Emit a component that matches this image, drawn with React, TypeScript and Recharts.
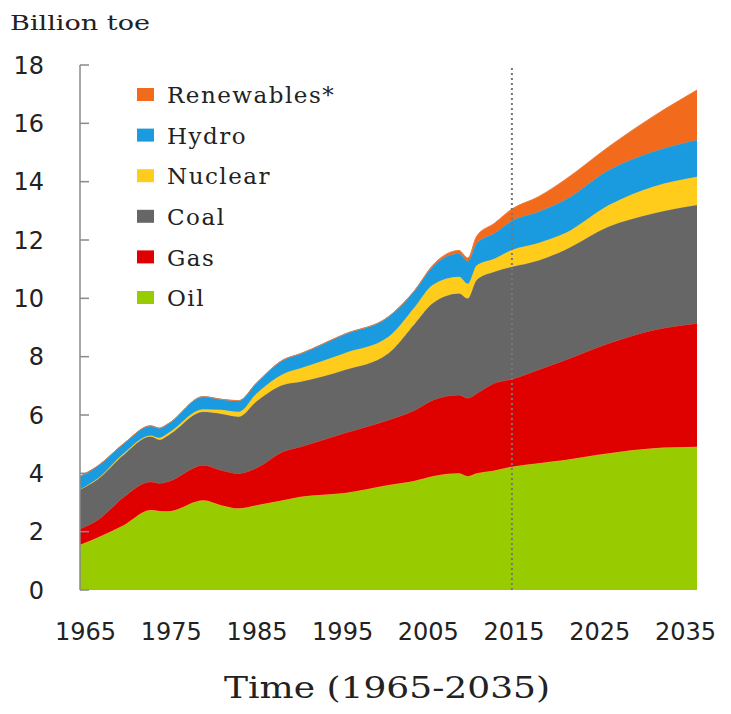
import { AreaChart, Area, XAxis, YAxis, ReferenceLine, Legend } from 'recharts'

const years = [1965, 1967, 1970, 1973, 1974, 1975, 1979, 1981, 1983, 1985, 1988, 1990, 1995, 2000, 2003, 2005, 2008, 2009, 2010, 2012, 2014, 2017, 2020, 2025, 2030, 2035]
const oil = [1.55, 1.8, 2.23, 2.74, 2.71, 2.7, 3.08, 2.91, 2.8, 2.91, 3.08, 3.2, 3.33, 3.6, 3.75, 3.9, 4.0, 3.9, 4.0, 4.1, 4.23, 4.35, 4.46, 4.69, 4.86, 4.91]
const gas = [0.55, 0.6, 0.97, 0.97, 0.95, 1.02, 1.2, 1.2, 1.2, 1.27, 1.66, 1.71, 2.05, 2.23, 2.42, 2.61, 2.69, 2.68, 2.74, 2.99, 3.0, 3.2, 3.42, 3.77, 4.05, 4.23]
const coal = [1.35, 1.4, 1.45, 1.55, 1.49, 1.58, 1.83, 1.93, 1.94, 2.28, 2.29, 2.23, 2.16, 2.29, 2.97, 3.32, 3.48, 3.42, 3.89, 3.82, 3.85, 3.75, 3.78, 4.0, 4.0, 4.06]
const nuclear = [0.0, 0.02, 0.05, 0.04, 0.07, 0.08, 0.09, 0.14, 0.17, 0.27, 0.37, 0.46, 0.58, 0.56, 0.57, 0.63, 0.57, 0.5, 0.5, 0.45, 0.58, 0.6, 0.57, 0.74, 0.92, 0.97]
const hydro = [0.45, 0.43, 0.33, 0.33, 0.33, 0.32, 0.43, 0.36, 0.38, 0.36, 0.48, 0.5, 0.65, 0.69, 0.57, 0.62, 0.8, 0.78, 0.75, 0.87, 1.0, 1.07, 1.14, 1.2, 1.2, 1.26]
const renewables = [0, 0, 0, 0, 0, 0, 0, 0, 0, 0, 0, 0, 0, 0, 0, 0.05, 0.1, 0.1, 0.25, 0.34, 0.4, 0.51, 0.69, 0.8, 1.2, 1.71]

const xTicks = [1965, 1975, 1985, 1995, 2005, 2015, 2025, 2035]
const yTicks = [0, 2, 4, 6, 8, 10, 12, 14, 16, 18]
const forecastStart = 2014

// bottom to top stacking order
const series = [
  { key: 'oil', name: 'Oil', fill: '#99cc00', stroke: '#f0a63a' },
  { key: 'gas', name: 'Gas', fill: '#df0000', stroke: '#e53a2a' },
  { key: 'coal', name: 'Coal', fill: '#666666', stroke: '#777777' },
  { key: 'nuclear', name: 'Nuclear', fill: '#ffcc1c', stroke: '#f5c830' },
  { key: 'hydro', name: 'Hydro', fill: '#1b9bdf', stroke: '#3aa5dc' },
  { key: 'renewables', name: 'Renewables*', fill: '#f26a1b', stroke: '#f07a3a' },
]

const data = years.map((year, i) => ({
  year,
  oil: oil[i],
  gas: gas[i],
  coal: coal[i],
  nuclear: nuclear[i],
  hydro: hydro[i],
  renewables: renewables[i],
}))

const slab = '"DejaVu Serif", serif'
const sans = '"DejaVu Sans", sans-serif'

const PLOT_LEFT = 72
const PLOT_WIDTH = 617

function YTick({ x, y, payload }: any) {
  return (
    <g>
      <line x1={x} x2={x + 9} y1={y} y2={y} stroke="#8a8a8a" strokeWidth={1.5} />
      <text x={x - 36} y={y} dy="0.36em" textAnchor="end" fill="#222" fontSize={24} fontFamily={sans}>
        {payload.value}
      </text>
    </g>
  )
}

// the original labels sit a bit inside the plot ends
function XTick({ x, y, payload }: any) {
  const t = (x - PLOT_LEFT) / PLOT_WIDTH
  const lx = PLOT_LEFT + 5.5 + t * (PLOT_WIDTH - 17)
  return (
    <text x={lx} y={y} dy="0.71em" textAnchor="middle" fill="#222" fontSize={24} fontFamily={sans}>
      {payload.value}
    </text>
  )
}

function LegendBox() {
  const rows = [...series].reverse()
  return (
    <svg width={240} height={250}>
      {rows.map((s, i) => {
        const cy = 18 + i * 40.6
        return (
          <g key={s.key}>
            <rect x={4} y={cy - 7} width={17} height={13} fill={s.fill} />
            <text x={34} y={cy} dy="0.36em" fontSize={23} fontFamily={slab} fill="#222" letterSpacing={1.5}>
              {s.name}
            </text>
          </g>
        )
      })}
    </svg>
  )
}

export default function App() {
  return (
    <div style={{ position: 'relative', width: 715, height: 706, fontFamily: sans }}>
      <AreaChart width={715} height={698} data={data} margin={{ top: 57, right: 26, left: 0, bottom: 0 }}>
        <XAxis
          dataKey="year"
          type="number"
          domain={[1965, 2035]}
          ticks={xTicks}
          axisLine={false}
          tickLine={false}
          tickSize={0}
          tickMargin={33}
          height={116}
          tick={<XTick />}
          interval={0}
        />
        <YAxis
          domain={[0, 18]}
          ticks={yTicks}
          width={72}
          tickSize={0}
          tickMargin={0}
          tickLine={false}
          axisLine={{ stroke: '#8a8a8a', strokeWidth: 1.5 }}
          tick={<YTick />}
          interval={0}
        />
        {series.map((s) => (
          <Area
            key={s.key}
            type="monotone"
            dataKey={s.key}
            name={s.name}
            stackId="energy"
            fill={s.fill}
            fillOpacity={1}
            stroke={s.stroke}
            strokeWidth={1}
            isAnimationActive={false}
          />
        ))}
        <ReferenceLine x={forecastStart} stroke="#777" strokeWidth={2} strokeDasharray="2 3" />
        <Legend
          layout="vertical"
          align="center"
          verticalAlign="middle"
          content={<LegendBox />}
          wrapperStyle={{ left: 125, top: 69, width: 240, height: 250 }}
        />
      </AreaChart>
      <svg width={715} height={706} style={{ position: 'absolute', left: 0, top: 0, pointerEvents: 'none' }}>
        <text x={2} y={14} dy="0.36em" fontSize={21} fontFamily={slab} fill="#222" textLength={140} lengthAdjust="spacingAndGlyphs">
          Billion toe
        </text>
        <text x={379} y={690} textAnchor="middle" fontSize={29} fontFamily={slab} fill="#222" textLength={326} lengthAdjust="spacingAndGlyphs">
          Time (1965-2035)
        </text>
      </svg>
    </div>
  )
}
